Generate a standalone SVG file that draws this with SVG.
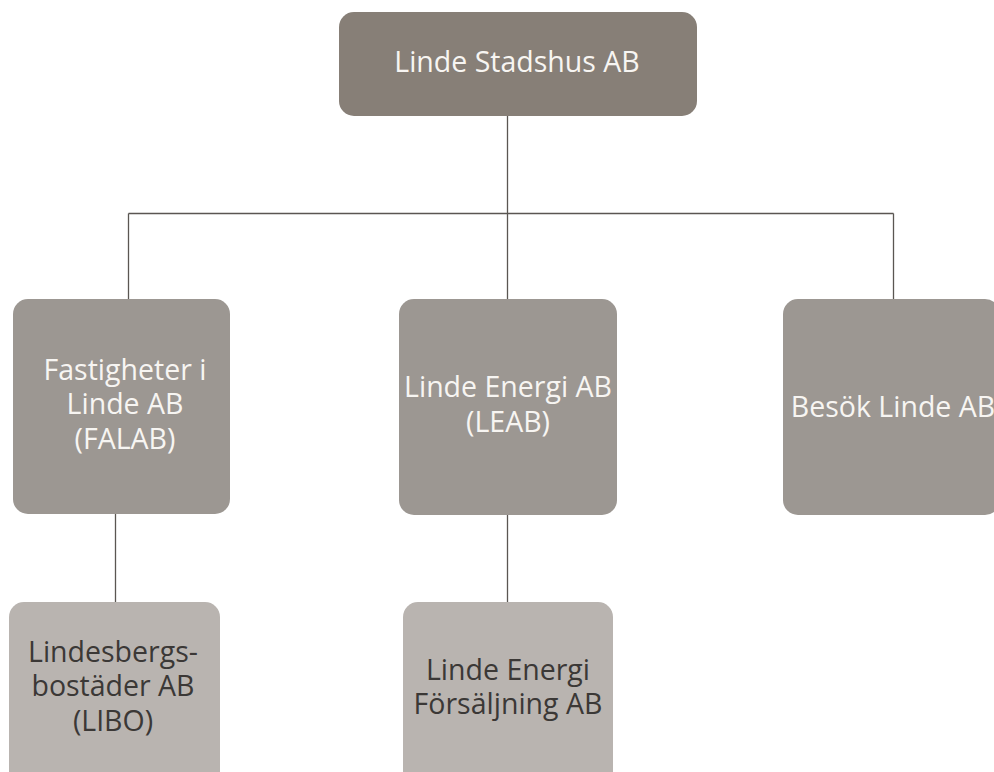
<svg xmlns="http://www.w3.org/2000/svg" width="994" height="772" viewBox="0 0 994 772">
<style>
.l1{fill:#877f77}
.l2{fill:#9c9792}
.l3{fill:#b9b4b0}
text{font-family:"Open Sans","Noto Sans",sans-serif;font-size:28.5px;text-anchor:middle}
.w{fill:#f7f5f2}
.d{fill:#3b3836}
.c{stroke:#5a5652;stroke-width:1.3;fill:none}
</style>
<rect width="994" height="772" fill="#ffffff"/>
<g id="connectors" class="c">
<path d="M507.5 116V213.5M128.5 213.5H893.5M128.5 213.5V299M507.5 213.5V299M893.5 213.5V299"/>
<path d="M115.5 514V602M507.5 515V602"/>
</g>
<g id="n-stadshus">
<rect class="l1" x="339" y="12" width="358" height="104" rx="15"/>
<text class="w" x="517" y="72">Linde Stadshus AB</text>
</g>
<g id="n-falab">
<rect class="l2" x="13" y="299" width="217" height="215" rx="15"/>
<text class="w" x="125" y="380">Fastigheter i</text>
<text class="w" x="125" y="414">Linde AB</text>
<text class="w" x="125" y="449">(FALAB)</text>
</g>
<g id="n-leab">
<rect class="l2" x="399" y="299" width="218" height="216" rx="15"/>
<text class="w" x="508" y="397">Linde Energi AB</text>
<text class="w" x="508" y="432">(LEAB)</text>
</g>
<g id="n-besok">
<rect class="l2" x="783" y="299" width="217" height="216" rx="15"/>
<text class="w" x="893" y="417">Besök Linde AB</text>
</g>
<g id="n-libo">
<rect class="l3" x="9" y="602" width="211" height="190" rx="15"/>
<text class="d" x="113" y="662">Lindesbergs-</text>
<text class="d" x="113" y="696">bostäder AB</text>
<text class="d" x="113" y="731">(LIBO)</text>
</g>
<g id="n-forsaljning">
<rect class="l3" x="403" y="602" width="210" height="190" rx="15"/>
<text class="d" x="508" y="680">Linde Energi</text>
<text class="d" x="508" y="714">Försäljning AB</text>
</g>
</svg>
